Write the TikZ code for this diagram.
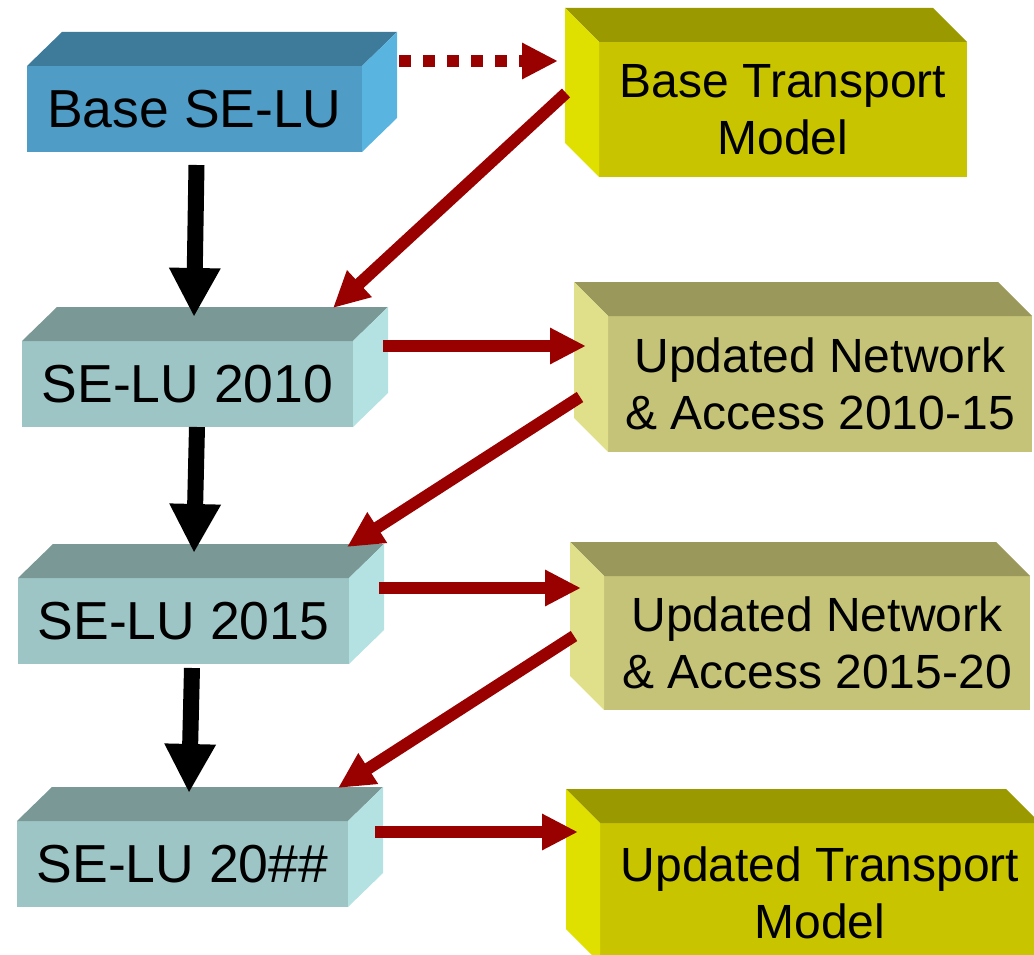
\documentclass[tikz,border=0pt]{standalone}
\usepackage{fontspec}
\setmainfont{Liberation Sans}
\usetikzlibrary{arrows.meta,calc}

% face colours
\definecolor{blueF}{HTML}{4F9CC6}
\definecolor{blueT}{HTML}{3E7A99}
\definecolor{blueS}{HTML}{5AB4E0}
\definecolor{tealF}{HTML}{9EC5C6}
\definecolor{tealT}{HTML}{7A9896}
\definecolor{tealS}{HTML}{B4E2E2}
\definecolor{yelF}{HTML}{C8C400}
\definecolor{yelT}{HTML}{9A9A00}
\definecolor{yelS}{HTML}{E0E000}
\definecolor{oliF}{HTML}{C4C378}
\definecolor{oliT}{HTML}{9A985A}
\definecolor{oliS}{HTML}{E0E08A}
\definecolor{arrRed}{HTML}{990000}

\tikzset{
  front/.style={inner sep=0pt, outer sep=0pt, draw=none, text=black},
  leftfront/.style={front, minimum width=331pt, minimum height=86pt,
    font=\fontsize{53.5}{60}\selectfont},
  rightfront/.style={front, align=center,
    font=\fontsize{48}{57}\selectfont},
  flow/.style={line width=16pt, black, -{Triangle[length=49pt,width=48pt]}},
  feed/.style={line width=12pt, arrRed, -{Triangle[length=36pt,width=34pt]}},
  feeddots/.style={feed, dash pattern=on 12pt off 12pt},
}

% box with its depth going up and to the right
\newcommand\boxright[3]{%
  \fill[#2] (#1.north west) -- (#1.north east) -- ++(35,-34)
    -- ($(#1.north west)+(35,-34)$) -- cycle;
  \fill[#3] (#1.north east) -- (#1.south east) -- ++(35,-34)
    -- ($(#1.north east)+(35,-34)$) -- cycle;
}
% box with its depth going up and to the left
\newcommand\boxleft[3]{%
  \fill[#2] (#1.north west) -- (#1.north east) -- ++(-34,-34)
    -- ($(#1.north west)+(-34,-34)$) -- cycle;
  \fill[#3] (#1.north west) -- (#1.south west) -- ++(-34,-34)
    -- ($(#1.north west)+(-34,-34)$) -- cycle;
}

\begin{document}
\begin{tikzpicture}[x=1pt,y=-1pt]
\useasboundingbox (0,0) rectangle (1034,955);
\clip (0,0) rectangle (1034,955);

% land-use column
\node[leftfront, fill=blueF, minimum width=335pt] (b1) at (194.5,109) {Base SE-LU};
\boxright{b1}{blueT}{blueS}
\node[leftfront, fill=tealF] (b3) at (187.5,384) {SE-LU 2010};
\boxright{b3}{tealT}{tealS}
\node[leftfront, fill=tealF] (b5) at (183.5,621) {SE-LU 2015};
\boxright{b5}{tealT}{tealS}
\node[leftfront, fill=tealF] (b7) at (182.5,864) {SE-LU 20\#\#};
\boxright{b7}{tealT}{tealS}

% transport column
\node[rightfront, fill=yelF, minimum width=368pt, minimum height=135pt] (b2) at (783,109.5)
  {Base Transport\\Model};
\boxleft{b2}{yelT}{yelS}
\node[rightfront, fill=oliF, minimum width=424pt, minimum height=136pt] (b4) at (820,384)
  {Updated Network\\\& Access 2010-15};
\boxleft{b4}{oliT}{oliS}
\node[rightfront, fill=oliF, minimum width=426pt, minimum height=134pt] (b6) at (817,643)
  {Updated Network\\\& Access 2015-20};
\boxleft{b6}{oliT}{oliS}
\node[rightfront, fill=yelF, minimum width=440pt, minimum height=140pt] (b8) at (820,893)
  {Updated Transport\\Model};
\boxleft{b8}{yelT}{yelS}

% land-use updates
\draw[flow] ($(b1.south)+(2,13)$) -- ($(b3.north)+(6.5,-24)$);
\draw[flow] ($(b3.south)+(9.5,0)$) -- ($(b5.north)+(10.5,-25)$);
\draw[flow] ($(b5.south)+(8.5,4)$) -- ($(b7.north)+(6.5,-28)$);

% land use to transport
\draw[feeddots] ($(b1.north east)+(37,-5)$) -- ($(b2.west)+(-41,-48.5)$);
\draw[feed] ($(b3.north east)+(30,5)$) -- ($(b4.west)+(-22,-38)$);
\draw[feed] ($(b5.north east)+(30,10)$) -- ($(b6.west)+(-23,-55)$);
\draw[feed] ($(b7.north east)+(27,11)$) -- ($(b8.west)+(-22,-61)$);

% transport back to land use
\draw[feed] ($(b2.west)+(-33,-16.5)$) -- ($(b3.north east)+(-20,-33)$);
\draw[feed] ($(b4.west)+(-28,13)$) -- ($(b5.north east)+(-2,-31)$);
\draw[feed] ($(b6.west)+(-30,-7)$) -- ($(b7.north east)+(-10,-33)$);
\end{tikzpicture}
\end{document}
